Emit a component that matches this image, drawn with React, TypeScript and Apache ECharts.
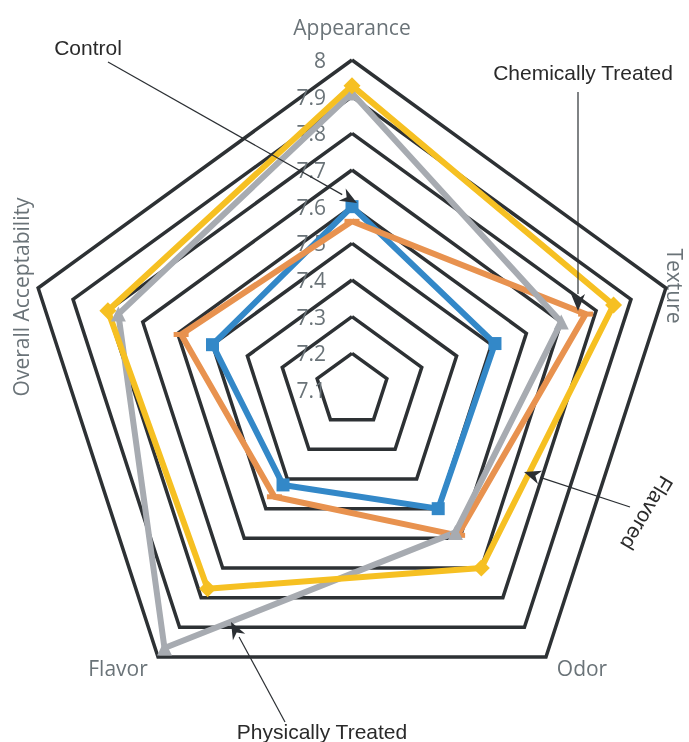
import React, { useEffect, useRef } from "react";
import * as echarts from "echarts";

const categories = ["Appearance", "Texture", "Odor", "Flavor", "Overall Acceptability"];
const tickLabels = ["7.1", "7.2", "7.3", "7.4", "7.5", "7.6", "7.7", "7.8", "7.9", "8"];
const seriesNames = ["Control", "Chemically Treated", "Physically Treated", "Flavored"];
const control = [7.6, 7.51, 7.5, 7.42, 7.5];
const chemical = [7.56, 7.77, 7.59, 7.46, 7.59];
const physical = [7.91, 7.7, 7.58, 7.97, 7.77];
const flavored = [7.93, 7.85, 7.7, 7.77, 7.8];

const colors = ["#3388c8", "#e8924f", "#a7abb1", "#f6c022"];
// ECharts lays radar indicators out counter-clockwise; the reference goes clockwise.
const order = [0, 4, 3, 2, 1];

function arrow(x1: number, y1: number, x2: number, y2: number) {
  const dx = x2 - x1, dy = y2 - y1;
  const len = Math.sqrt(dx * dx + dy * dy);
  const ux = dx / len, uy = dy / len;
  const hl = 17, hw = 7;
  const bx = x2 - ux * hl, by = y2 - uy * hl;
  return [
    { type: "line", shape: { x1, y1, x2: bx, y2: by }, style: { stroke: "#2b2f33", lineWidth: 1.2 }, z: 100 },
    {
      type: "polygon",
      shape: { points: [[x2, y2], [bx - uy * hw, by + ux * hw], [x2 - ux * hl * 0.7, y2 - uy * hl * 0.7], [bx + uy * hw, by - ux * hw]] },
      style: { fill: "#2b2f33" },
      z: 100,
    },
  ];
}

export default function App() {
  const ref = useRef<HTMLDivElement>(null);
  useEffect(() => {
    const chart = echarts.init(ref.current!, null, { renderer: "svg" });
    const nameStyle = { fill: "#6a7378", font: "21px 'Open Sans'", textAlign: "center", textVerticalAlign: "middle" };
    const annStyle = { fill: "#2a2a2a", font: "21px 'Liberation Sans'", textAlign: "center", textVerticalAlign: "middle" };
    const dataSets = [control, chemical, physical, flavored];
    const symbols: any[] = ["rect", "rect", "triangle", "diamond"];
    const sizes: any[] = [13, [15, 5], 15, 17];
    chart.setOption({
      animation: false,
      radar: {
        center: [352, 390],
        radius: 330,
        startAngle: 90,
        splitNumber: 9,
        shape: "polygon",
        indicator: order.map((k, i) =>
          i === 0
            ? {
                name: categories[k], min: 7.1, max: 8,
                axisLabel: {
                  show: true, color: "#6a7378", fontSize: 21, fontFamily: "Open Sans", margin: 26,
                  formatter: (_v: number, idx: number) => tickLabels[idx],
                },
              }
            : { name: categories[k], min: 7.1, max: 8 }
        ),
        axisName: { show: false },
        axisLine: { show: false },
        axisTick: { show: false },
        axisLabel: { show: false },
        splitArea: { show: false },
        splitLine: { lineStyle: { color: "#2d3134", width: 3.5 } },
      },
      series: [
        {
          type: "radar",
          data: dataSets.map((d, i) => ({
            name: seriesNames[i],
            value: order.map((k) => d[k]),
            symbol: symbols[i],
            symbolSize: sizes[i],
            itemStyle: { color: colors[i] },
            lineStyle: { color: colors[i], width: 6 },
          })),
        },
      ],
      graphic: [
        { type: "text", x: 352, y: 27, style: { ...nameStyle, text: categories[0] } },
        { type: "text", x: 675, y: 286, rotation: -Math.PI / 2, style: { ...nameStyle, text: categories[1] } },
        { type: "text", x: 582, y: 668, style: { ...nameStyle, text: categories[2] } },
        { type: "text", x: 118, y: 668, style: { ...nameStyle, text: categories[3] } },
        { type: "text", x: 21, y: 297, rotation: Math.PI / 2, style: { ...nameStyle, text: categories[4] } },
        { type: "text", x: 88, y: 47, style: { ...annStyle, text: seriesNames[0] } },
        { type: "text", x: 583, y: 72, style: { ...annStyle, text: seriesNames[1] } },
        { type: "text", x: 322, y: 731, style: { ...annStyle, text: seriesNames[2] } },
        { type: "text", x: 647, y: 513, rotation: -2.11, style: { ...annStyle, text: seriesNames[3] } },
        ...arrow(108, 62, 357, 203),
        ...arrow(578, 92, 578, 311),
        ...arrow(630, 507, 524, 472),
        ...arrow(285, 722, 231, 622),
      ],
    });
    return () => chart.dispose();
  }, []);
  return <div ref={ref} style={{ position: "fixed", left: 0, top: 0, width: 689, height: 742 }} />;
}
